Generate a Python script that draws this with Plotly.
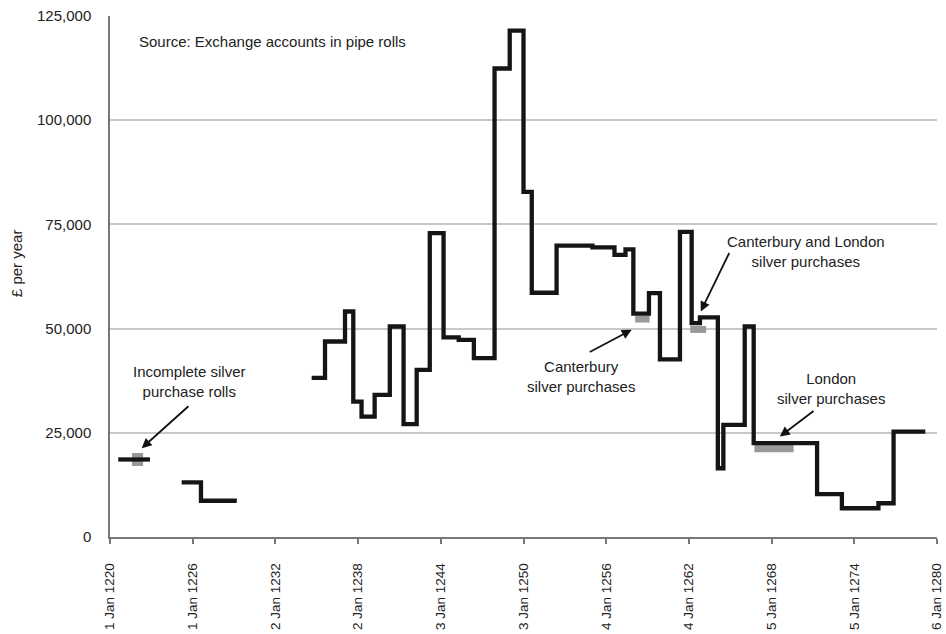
import plotly.graph_objects as go

# ---- data (years as decimal, values in £ per year) ----
seg1_x = [1220.6, 1222.9]
seg1_y = [18600]
seg2_x = [1225.2, 1226.6, 1229.2]
seg2_y = [13100, 8700]
seg3_x = [1234.63, 1235.6, 1237.05, 1237.65, 1238.25, 1239.2, 1240.3, 1241.3, 1242.25,
          1243.2, 1244.2, 1245.3, 1246.4, 1247.9, 1249.0, 1250.0, 1250.6, 1252.4,
          1255.0, 1256.6, 1257.4, 1257.97, 1259.1, 1259.9, 1261.35, 1262.2, 1262.8,
          1264.1, 1264.5, 1266.05, 1266.7, 1271.3, 1273.1, 1275.75, 1276.85, 1279.15]
seg3_y = [38200, 46900, 54100, 32500, 28900, 34100, 50500, 27100, 40100, 72900,
          47900, 47300, 42900, 112400, 121500, 82800, 58600, 69900, 69500, 67700,
          69000, 53600, 58500, 42600, 73200, 51300, 52700, 16500, 26900, 50500,
          22500, 10300, 6900, 8100, 25300]

# silver purchase overlays (grey)
silver_x = [[1221.6, 1222.4], [1258.1, 1259.15], [1262.1, 1263.25], [1266.75, 1269.6]]
silver_y = [18600, 52300, 49800, 21300]
silver_w = [13, 7, 7, 8]

tick_years = [1220, 1226, 1232, 1238, 1244, 1250, 1256, 1262, 1268, 1274, 1280]
tick_text = ["1 Jan 1220", "1 Jan 1226", "2 Jan 1232", "2 Jan 1238", "3 Jan 1244",
             "3 Jan 1250", "4 Jan 1256", "4 Jan 1262", "5 Jan 1268", "5 Jan 1274",
             "6 Jan 1280"]
y_ticks = [0, 25000, 50000, 75000, 100000, 125000]
y_text = ["0", "25,000", "50,000", "75,000", "100,000", "125,000"]

FONT = "Liberation Sans, Arial, sans-serif"
fig = go.Figure()

for xs, yv, w in zip(silver_x, silver_y, silver_w):
    fig.add_trace(go.Scatter(x=xs, y=[yv, yv], mode="lines",
                             line=dict(color="#999999", width=w), hoverinfo="skip"))

for xs, ys in [(seg1_x, seg1_y), (seg2_x, seg2_y), (seg3_x, seg3_y)]:
    fig.add_trace(go.Scatter(x=xs, y=ys + [ys[-1]], mode="lines", line_shape="hv",
                             line=dict(color="#151515", width=4.3)))

anns = []
def txt(x, y, t, xanchor="center"):
    anns.append(dict(x=x, y=y, xref="x", yref="y", text=t, showarrow=False,
                     xanchor=xanchor, yanchor="middle", align="center",
                     font=dict(size=15, color="#222", family=FONT)))

def arrow(hx, hy, tx, ty):
    anns.append(dict(x=hx, y=hy, ax=tx, ay=ty, xref="x", yref="y", axref="x", ayref="y",
                     text="", showarrow=True, arrowhead=2, arrowsize=1.1,
                     arrowwidth=1.8, arrowcolor="#111", standoff=0, startstandoff=0))

txt(1221.96, 118800, "Source: Exchange accounts in pipe rolls", xanchor="left")
txt(1225.8, 37300, "Incomplete silver<br>purchase rolls")
arrow(1222.3, 21300, 1225.8, 31700)
txt(1254.14, 38400, "Canterbury<br>silver purchases")
arrow(1257.85, 49700, 1254.7, 44200)
txt(1270.47, 68600, "Canterbury and London<br>silver purchases")
arrow(1262.86, 54100, 1264.98, 68500)
txt(1272.3, 35600, "London<br>silver purchases")
arrow(1268.6, 24100, 1271.15, 30500)

anns.append(dict(x=-0.1137, y=65700, xref="paper", yref="y", text="£ per year",
                 textangle=-90, showarrow=False, xanchor="center", yanchor="middle",
                 font=dict(size=15, color="#222", family=FONT)))

fig.update_layout(
    width=946, height=634,
    margin=dict(l=110, r=9, t=16, b=97, autoexpand=False),
    paper_bgcolor="white", plot_bgcolor="white",
    showlegend=False,
    annotations=anns,
    font=dict(family=FONT, size=15, color="#222"),
    xaxis=dict(range=[1220, 1280], tickmode="array", tickvals=tick_years,
               ticktext=tick_text, tickangle=-90, showgrid=False, zeroline=False,
               showline=True, linecolor="#777", linewidth=1.5, automargin=False,
               ticks="outside", ticklen=5, tickcolor="#777", tickwidth=1.5,
               ticklabelstandoff=14,
               tickfont=dict(size=13.5, color="#222", family=FONT)),
    yaxis=dict(range=[0, 125000], tickmode="array", tickvals=y_ticks, ticktext=y_text,
               showgrid=True, gridcolor="#c8c8c8", gridwidth=1.5, zeroline=False,
               showline=True, linecolor="#777", linewidth=1.5, ticks="",
               ticklabelstandoff=14, automargin=False,
               tickfont=dict(size=15, color="#222", family=FONT)),
)

fig.write_html("out.html")
